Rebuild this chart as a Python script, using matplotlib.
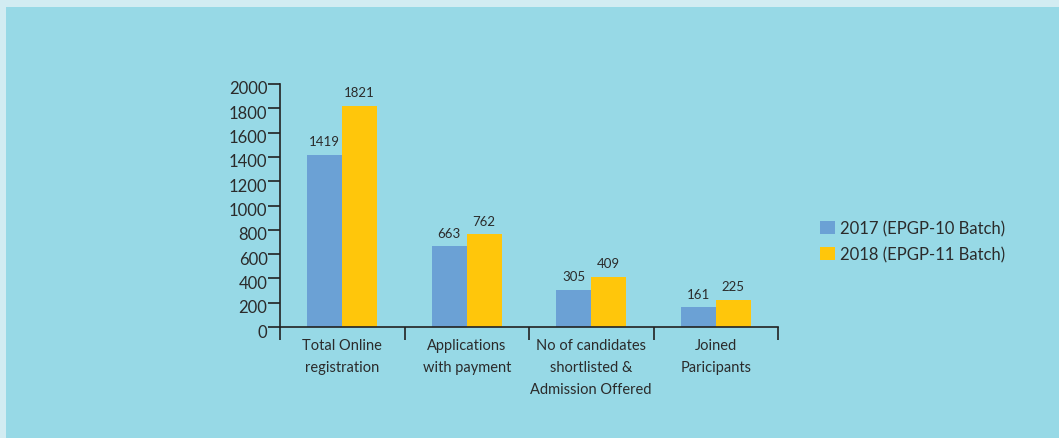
import matplotlib
matplotlib.use("Agg")
import matplotlib.pyplot as plt
from matplotlib.patches import Rectangle
import matplotlib.transforms as mtransforms
import numpy as np

categories = ["Total Online\nregistration", "Applications\nwith payment",
              "No of candidates\nshortlisted &\nAdmission Offered", "Joined\nParicipants"]
series_names = ["2017 (EPGP-10 Batch)", "2018 (EPGP-11 Batch)"]
values_2017 = [1419, 663, 305, 161]
values_2018 = [1821, 762, 409, 225]
y_ticks = [0, 200, 400, 600, 800, 1000, 1200, 1400, 1600, 1800, 2000]

plt.rcParams['font.family'] = ['Lato', 'DejaVu Sans']
blue = "#6ba1d5"
yellow = "#ffc60b"
text_c = "#2b2b2b"

fig = plt.figure(figsize=(10.59, 4.39), dpi=100)
fig.patch.set_facecolor("#d2ecf2")
fig.patches.append(Rectangle((6/1059, 0), 1, 1 - 8/439, transform=fig.transFigure,
                             facecolor="#97d9e6", edgecolor="none", zorder=-10))

ax = fig.add_axes([280/1059, 1 - 328/439, 498/1059, 243/439])
ax.set_zorder(5)
ax.set_facecolor("none")
x = np.arange(len(categories))
w = 0.28
ax.bar(x - w/2, values_2017, width=w, color=blue, label=series_names[0], zorder=2)
ax.bar(x + w/2, values_2018, width=w, color=yellow, label=series_names[1], zorder=2)

for xi, v in zip(x - w/2, values_2017):
    ax.text(xi, v + 65, str(v), ha="center", va="bottom", fontsize=9.5, color=text_c)
for xi, v in zip(x + w/2, values_2018):
    ax.text(xi, v + 65, str(v), ha="center", va="bottom", fontsize=9.5, color=text_c)

ax.set_xlim(-0.5, len(categories) - 0.5)
ax.set_ylim(0, 2000)
ax.set_yticks(y_ticks)
ax.set_yticklabels([str(t) for t in y_ticks], fontsize=12, color=text_c)
ax.tick_params(axis="y", direction="out", length=9, width=1.2, color="#222222", pad=0)
offset = mtransforms.ScaledTranslation(0, -3/100, fig.dpi_scale_trans)
for lab in ax.get_yticklabels():
    lab.set_transform(lab.get_transform() + offset)

ax.set_xticks(x)
ax.set_xticklabels(categories, fontsize=10.5, color=text_c, linespacing=1.7)
ax.tick_params(axis="x", which="major", length=0, pad=8)
ax.set_xticks(np.arange(-0.5, len(categories)), minor=True)
ax.tick_params(axis="x", which="minor", direction="out", length=9, width=1.2, color="#222222")

for s in ["top", "right"]:
    ax.spines[s].set_visible(False)
for s in ["left", "bottom"]:
    ax.spines[s].set_color("#222222")
    ax.spines[s].set_linewidth(1.2)

leg = fig.legend(loc="center left", bbox_to_anchor=(812/1059, 1 - 242/439), frameon=False,
                 fontsize=12, handlelength=0.85, handleheight=0.85, handletextpad=0.35,
                 labelspacing=0.6, borderpad=0)
for t in leg.get_texts():
    t.set_color(text_c)

fig.savefig("out.png", dpi=100, facecolor=fig.get_facecolor())
